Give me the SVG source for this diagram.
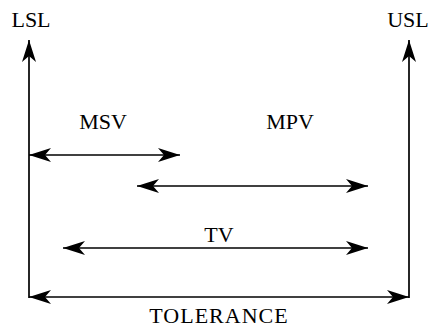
<svg xmlns="http://www.w3.org/2000/svg" width="432" height="331" viewBox="0 0 432 331">
<style>
text{font-family:"Liberation Serif","Times New Roman",serif;font-size:22px;fill:#000;text-anchor:middle}
.c line{stroke:#000;stroke-width:1.7;fill:none}
</style>
<defs>
<marker id="ah" viewBox="-23 -8 23 16" refX="0" refY="0" markerWidth="23" markerHeight="16" markerUnits="userSpaceOnUse" orient="auto-start-reverse">
<path d="M0,0 L-22,-7 L-16,0 L-22,7 Z" fill="#000"/>
</marker>
</defs>
<rect width="432" height="331" fill="#fff"/>
<g class="c" id="connectors">
<line x1="29" y1="298" x2="29" y2="40" marker-end="url(#ah)"/>
<line x1="409" y1="298" x2="409" y2="40" marker-end="url(#ah)"/>
<line x1="29" y1="297" x2="409" y2="297" marker-start="url(#ah)" marker-end="url(#ah)"/>
<line x1="29" y1="155" x2="180" y2="155" marker-start="url(#ah)" marker-end="url(#ah)"/>
<line x1="137" y1="186" x2="368" y2="186" marker-start="url(#ah)" marker-end="url(#ah)"/>
<line x1="63" y1="248" x2="368" y2="248" marker-start="url(#ah)" marker-end="url(#ah)"/>
</g>
<g id="lsl"><text x="31" y="27">LSL</text></g>
<g id="usl"><text x="408" y="27">USL</text></g>
<g id="msv"><text x="103" y="129">MSV</text></g>
<g id="mpv"><text x="290" y="129">MPV</text></g>
<g id="tv"><text x="219" y="242">TV</text></g>
<g id="tolerance"><text x="219" y="323" letter-spacing="1">TOLERANCE</text></g>
</svg>
